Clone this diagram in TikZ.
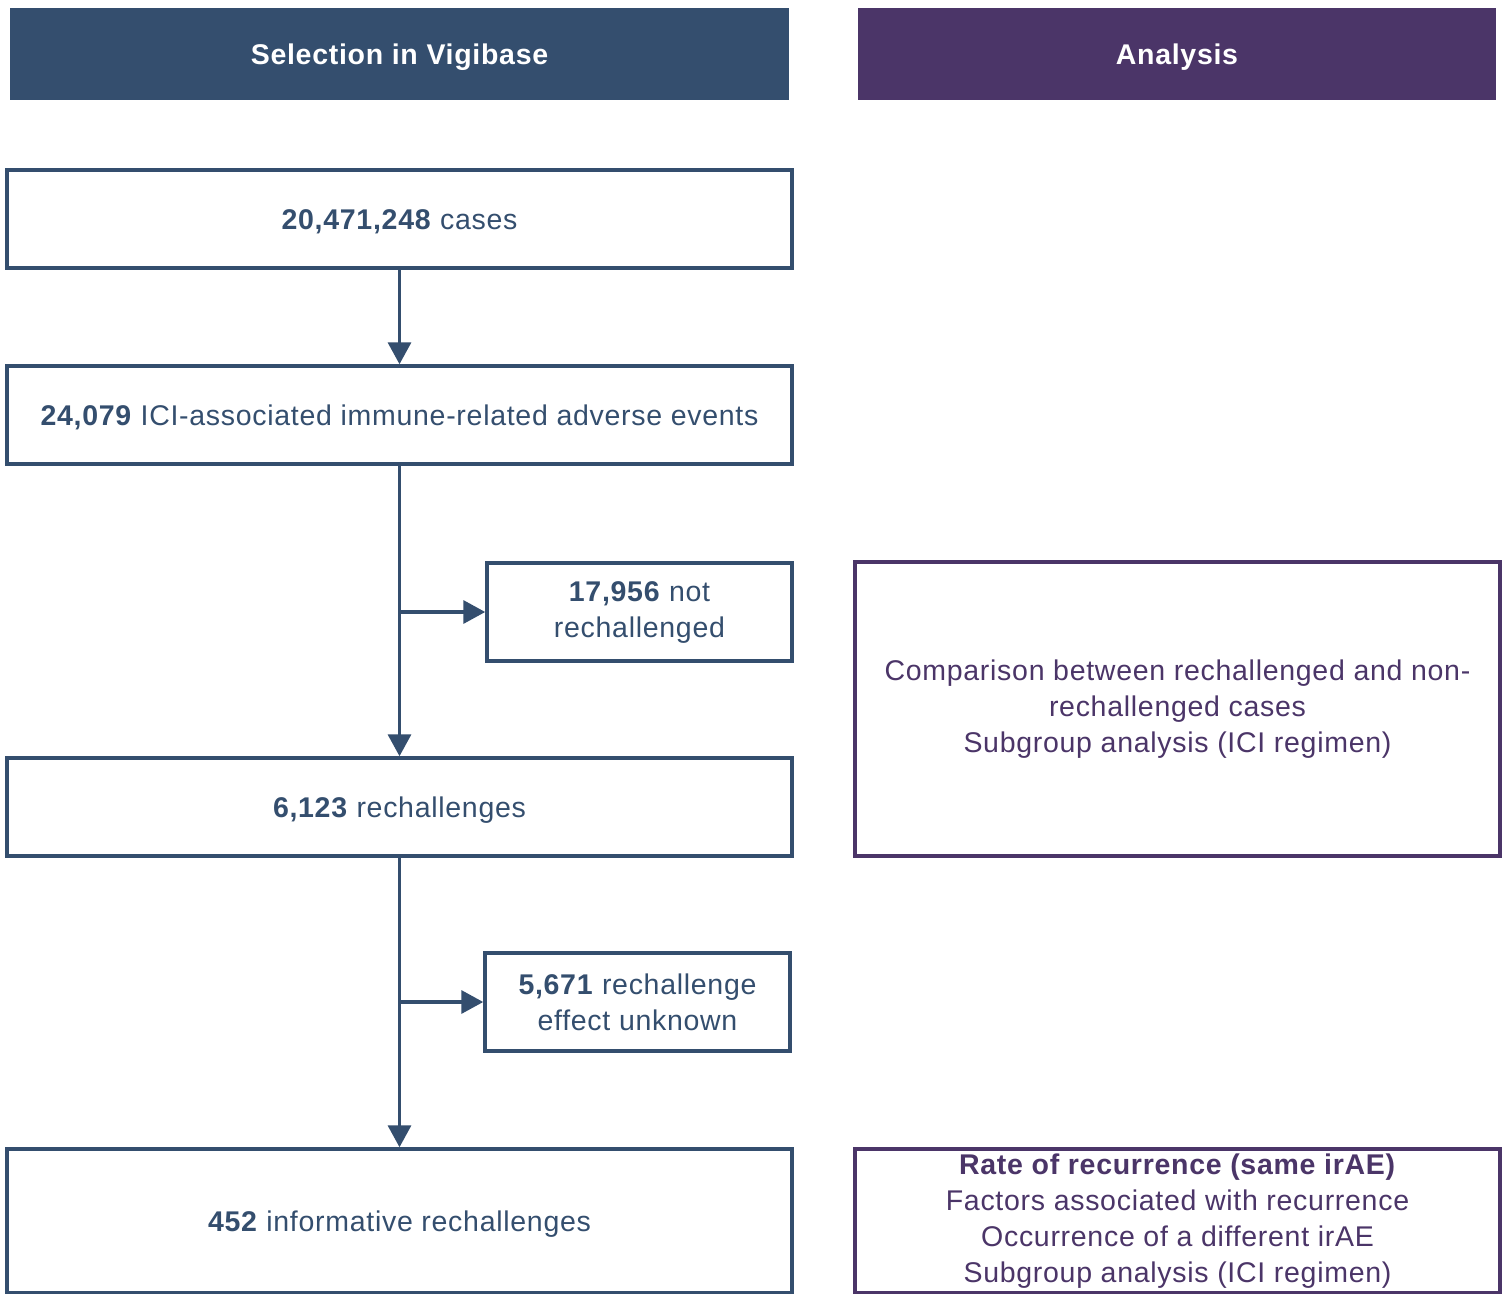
\documentclass[tikz,border=0pt]{standalone}
\usepackage{fontspec}
\setmainfont{Liberation Sans}[LetterSpace=2.5]
\usetikzlibrary{arrows.meta}
\definecolor{navy}{HTML}{344E6E}
\definecolor{plum}{HTML}{4B3568}
\begin{document}
\begin{tikzpicture}[x=1pt,y=-1pt,
  box/.style={draw=navy, line width=3.5pt, text=navy, align=center,
    font=\fontsize{28.5}{36}\selectfont, inner sep=0pt},
  oneline/.style={text height=20pt, text depth=0pt},
  pbox/.style={box, draw=plum, text=plum},
  hdr/.style={inner sep=0pt, text=white, font=\fontsize{28.5}{36}\selectfont\bfseries,
    minimum height=92pt, oneline},
  arr/.style={draw=navy, line width=3.5pt, -{Triangle[length=22pt,width=23pt]}}]
\useasboundingbox[fill=white] (0,0) rectangle (1506,1293);
% headers
\node[hdr, fill=navy, minimum width=779pt] (h1) at (399.5,54) {Selection in Vigibase};
\node[hdr, fill=plum, minimum width=638pt] (h2) at (1177,54) {Analysis};
% left column
\node[box, oneline, minimum width=785pt, minimum height=98pt] (b1) at (399.5,219) {\textbf{20,471,248} cases};
\node[box, oneline, minimum width=785pt, minimum height=98pt] (b2) at (399.5,415) {\textbf{24,079} ICI-associated immune-related adverse events};
\node[box, minimum width=305pt, minimum height=98pt] (b3) at (639.5,612) {\textbf{17,956} not\\rechallenged};
\node[box, oneline, minimum width=785pt, minimum height=98pt] (b4) at (399.5,807) {\textbf{6,123} rechallenges};
\node[box, minimum width=305pt, minimum height=98pt] (b5) at (637.5,1002) {\textbf{5,671} rechallenge\\effect unknown};
\node[box, oneline, minimum width=785pt, minimum height=144pt] (b6) at (399.5,1221) {\textbf{452} informative rechallenges};
% right column
\node[pbox, minimum width=645pt, minimum height=294pt] (r1) at (1177.5,709) {Comparison between rechallenged and non-\\rechallenged cases\\Subgroup analysis (ICI regimen)};
\node[pbox, minimum width=645pt, minimum height=144pt] (r2) at (1177.5,1221) {\textbf{Rate of recurrence (same irAE)}\\Factors associated with recurrence\\Occurrence of a different irAE\\Subgroup analysis (ICI regimen)};
% connectors
\draw[arr] (b1) -- (b2);
\draw[arr] (b2) -- (b4);
\draw[arr] (b2.south |- b3.west) -- (b3.west);
\draw[arr] (b4) -- (b6);
\draw[arr] (b4.south |- b5.west) -- (b5.west);
\end{tikzpicture}
\end{document}
